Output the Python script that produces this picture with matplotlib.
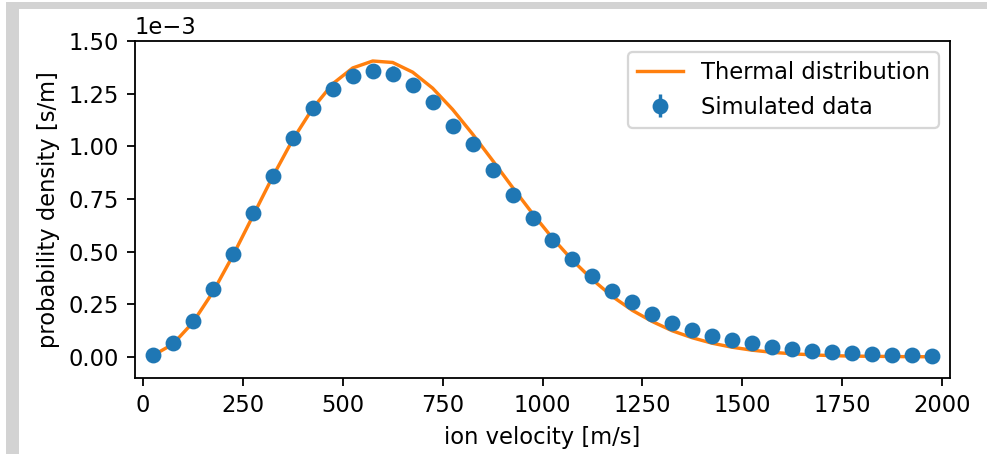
import numpy as np
import matplotlib
matplotlib.use('Agg')
import matplotlib.pyplot as plt
from matplotlib.patches import Rectangle

# bin centres [m/s]
velocity = np.arange(25, 2000, 50)

# simulated histogram (units of 1e-3 s/m)
sim_density = [0.011, 0.066, 0.171, 0.321, 0.491, 0.683, 0.861, 1.041, 1.182, 1.272,
               1.334, 1.358, 1.345, 1.293, 1.211, 1.098, 1.013, 0.888, 0.771, 0.662,
               0.556, 0.465, 0.382, 0.311, 0.259, 0.204, 0.163, 0.128, 0.101, 0.079,
               0.065, 0.049, 0.038, 0.030, 0.022, 0.019, 0.014, 0.011, 0.008, 0.006]
sim_error = [0.004, 0.010, 0.015, 0.020, 0.024, 0.027, 0.029, 0.031, 0.032, 0.033,
             0.034, 0.034, 0.034, 0.033, 0.032, 0.031, 0.030, 0.028, 0.026, 0.025,
             0.022, 0.020, 0.018, 0.016, 0.015, 0.013, 0.012, 0.011, 0.009, 0.008,
             0.007, 0.006, 0.006, 0.005, 0.004, 0.004, 0.003, 0.003, 0.003, 0.002]

# thermal (Maxwell) curve read at the same bin centres (1e-3 s/m)
thermal = [0.007, 0.061, 0.164, 0.308, 0.481, 0.669, 0.857, 1.032, 1.181, 1.297,
           1.372, 1.405, 1.398, 1.352, 1.276, 1.175, 1.058, 0.933, 0.805, 0.681,
           0.564, 0.459, 0.367, 0.287, 0.221, 0.168, 0.124, 0.091, 0.065, 0.046,
           0.032, 0.022, 0.015, 0.010, 0.006, 0.004, 0.003, 0.002, 0.001, 0.001]

yticks = [0.0, 0.25, 0.5, 0.75, 1.0, 1.25, 1.5]

sim_density = np.array(sim_density) * 1e-3
sim_error = np.array(sim_error) * 1e-3
thermal = np.array(thermal) * 1e-3

DPI = 163
W, H = 987, 454
fig = plt.figure(figsize=(W / DPI, H / DPI), dpi=DPI)
ax = fig.add_axes([135 / W, 1 - 378 / H, (950 - 135) / W, (378 - 41) / H])

# grey frame strips from the screenshot
fig.patches.append(Rectangle((6 / W, 0), 13 / W, 1 - 2 / H, transform=fig.transFigure,
                             facecolor='#d3d3d3', edgecolor='none', zorder=-1))
fig.patches.append(Rectangle((6 / W, 1 - 9 / H), 1 - 6 / W, 7 / H, transform=fig.transFigure,
                             facecolor='#d3d3d3', edgecolor='none', zorder=-1))

ax.plot(velocity, thermal, color='C1', label='Thermal distribution')
ax.errorbar(velocity, sim_density, yerr=sim_error, fmt='o', color='C0', label='Simulated data')

ax.set_xlim(-20, 2020)
ax.set_ylim(-0.1e-3, 1.5e-3)
ax.set_yticks(np.array(yticks) * 1e-3)
ax.ticklabel_format(axis='y', style='sci', scilimits=(0, 0))
ax.set_xlabel('ion velocity [m/s]')
ax.set_ylabel('probability density [s/m]')
ax.legend(loc='upper right')

fig.savefig('out.png', dpi=DPI)
